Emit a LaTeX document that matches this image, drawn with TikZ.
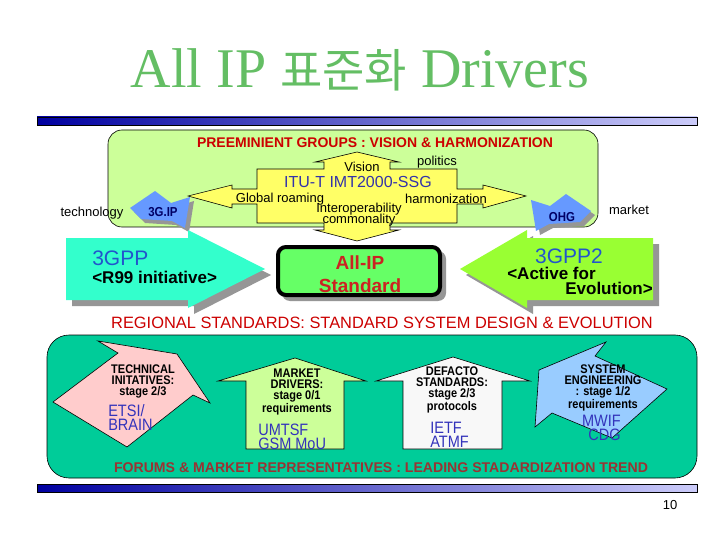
\documentclass[tikz,border=0pt]{standalone}
\usepackage{fontspec}
\setmainfont{Liberation Sans}
\newfontfamily\narrowfont[FakeStretch=0.88]{Liberation Sans}
\newfontfamily\titlefont{Liberation Serif}
\newfontfamily\krfont{Noto Sans CJK KR}

\definecolor{titlegreen}{RGB}{100,190,100}
\definecolor{barleft}{RGB}{0,0,160}
\definecolor{barright}{RGB}{204,204,250}
\definecolor{groupgreen}{RGB}{204,255,153}
\definecolor{ituyellow}{RGB}{255,255,102}
\definecolor{headred}{RGB}{204,0,0}
\definecolor{itublue}{RGB}{51,51,170}
\definecolor{ipblue}{RGB}{102,153,255}
\definecolor{ipnavy}{RGB}{0,0,102}
\definecolor{gppcyan}{RGB}{51,255,204}
\definecolor{gpptwo}{RGB}{153,255,51}
\definecolor{gppblue}{RGB}{34,85,204}
\definecolor{allipgreen}{RGB}{102,255,102}
\definecolor{allipred}{RGB}{204,34,34}
\definecolor{forumteal}{RGB}{0,204,153}
\definecolor{techpink}{RGB}{255,204,204}
\definecolor{marketgreen}{RGB}{204,255,153}
\definecolor{defactowhite}{RGB}{248,248,248}
\definecolor{syseng}{RGB}{153,204,255}
\definecolor{orgblue}{RGB}{51,51,187}
\definecolor{forumred}{RGB}{153,51,51}
\definecolor{shadowgray}{RGB}{150,150,150}

\begin{document}
\begin{tikzpicture}[x=1pt, y=-1pt, line width=0.6pt,
	every node/.style={inner sep=0pt, align=center},
	titletxt/.style={font=\titlefont\fontsize{56}{56}\selectfont, text=titlegreen},
	headtxt/.style={font=\bfseries\fontsize{14}{14}\selectfont, text=headred},
	labeltxt/.style={font=\fontsize{13}{13}\selectfont},
	ipmark/.style={font=\narrowfont\bfseries\fontsize{13}{13}\selectfont, text=ipnavy},
	gppname/.style={font=\fontsize{21}{21}\selectfont, text=gppblue},
	gppnote/.style={font=\bfseries\fontsize{17}{15}\selectfont},
	stagetxt/.style={font=\narrowfont\bfseries\fontsize{12.5}{11}\selectfont},
	orgtxt/.style={font=\narrowfont\fontsize{16.5}{14}\selectfont, text=orgblue},
	bar/.style={left color=barleft, right color=barright, draw=black}]
\useasboundingbox (0,0) rectangle (720,540);
\fill[white] (0,0) rectangle (720,540);

% title and bars
\node[titletxt] (title) at (360,70) {All IP {\krfont\fontsize{46}{46}\selectfont 표준화} Drivers};
\shadedraw[bar] (37,117) rectangle (697,125);
\shadedraw[bar] (37,484) rectangle (697,492);

% preeminient groups
\draw[fill=groupgreen, rounded corners=14pt] (108,130) rectangle (598,227);
\node[headtxt] (groups) at (375,143) {PREEMINIENT GROUPS : VISION \& HARMONIZATION};
\draw[fill=ituyellow] (188,196) -- (232,185) -- (232,189) -- (257,189) -- (257,169) -- (324,169)
	-- (324,162) -- (315,162) -- (357,152) -- (399,162) -- (390,162) -- (390,169) -- (457,169)
	-- (457,189) -- (483,189) -- (483,185) -- (526,196) -- (483,208) -- (483,204) -- (457,204)
	-- (457,223) -- (390,223) -- (390,230) -- (399,230) -- (357,241) -- (315,230) -- (324,230)
	-- (324,223) -- (257,223) -- (257,204) -- (232,204) -- (232,208) -- cycle;
\node[labeltxt] (vision) at (362,167) {Vision};
\node[labeltxt] (politics) at (437,162) {politics};
\node[font=\fontsize{16}{16}\selectfont, text=itublue] (itu) at (358,182) {ITU-T IMT2000-SSG};
\node[labeltxt] (roaming) at (280,199) {Global roaming};
\node[labeltxt] (harmon) at (446,199) {harmonization};
\node[labeltxt] (interop) at (359,209) {Interoperability};
\node[labeltxt] (common) at (359,220) {commonality};
\node[labeltxt] (techno) at (92,213) {technology};
\node[labeltxt] (market) at (629,210) {market};

% 3G.IP and OHG
\fill[shadowgray] (134,212) -- (159,195) -- (175,207) -- (194,201) -- (189,232) -- (176,225) -- (145,223) -- cycle;
\fill[ipblue] (130,208) -- (155,191) -- (171,203) -- (190,197) -- (185,228) -- (172,221) -- (141,219) -- cycle;
\node[ipmark] (gip) at (163,212) {3G.IP};
\fill[shadowgray] (595,215) -- (570,198) -- (554,210) -- (535,204) -- (540,235) -- (553,228) -- (584,226) -- cycle;
\fill[ipblue] (591,211) -- (566,194) -- (550,206) -- (531,200) -- (536,231) -- (549,224) -- (580,222) -- cycle;
\node[ipmark] (ohg) at (562,217) {OHG};

% 3GPP, 3GPP2 and All-IP
\fill[shadowgray] (72,244) -- (194,244) -- (194,236) -- (271,275) -- (194,314) -- (194,306) -- (72,306) -- cycle;
\fill[gppcyan] (66,238) -- (188,238) -- (188,230) -- (265,269) -- (188,308) -- (188,300) -- (66,300) -- cycle;
\node[gppname, anchor=west] (gpp) at (92,258) {3GPP};
\node[gppnote, anchor=west] (rnine) at (92,277) {<R99 initiative>};
\fill[shadowgray] (659,244) -- (533,244) -- (533,236) -- (466,275) -- (533,314) -- (533,306) -- (659,306) -- cycle;
\fill[gpptwo] (653,238) -- (527,238) -- (527,230) -- (460,269) -- (527,308) -- (527,300) -- (653,300) -- cycle;
\node[gppname] (gpptwo) at (569,256) {3GPP2};
\node[gppnote, anchor=west] (active) at (507,273) {<Active for};
\node[gppnote, anchor=east] (evol) at (653,288) {Evolution>};
\fill[shadowgray, rounded corners=8pt] (282,251) rectangle (446,301);
\draw[fill=allipgreen, line width=4pt, rounded corners=8pt] (278,247) rectangle (440,295);
\node[font=\bfseries\fontsize{19}{23}\selectfont, text=allipred] (allip) at (360,274) {All-IP\\Standard};

% regional standards and forums
\node[font=\fontsize{16.4}{16.4}\selectfont, text=headred] (regional) at (382,323) {REGIONAL STANDARDS: STANDARD SYSTEM DESIGN \& EVOLUTION};
\draw[fill=forumteal, rounded corners=22pt] (47,335) rectangle (697,478);
\draw[fill=techpink] (98,341) -- (177,354) -- (210,403) -- (193,395) -- (127,447) -- (53,402) -- (118,353) -- cycle;
\draw[fill=marketgreen] (246,449) -- (246,381) -- (218,381) -- (295,358) -- (366,381) -- (344,381) -- (344,449) -- cycle;
\draw[fill=defactowhite] (403,449) -- (403,381) -- (376,381) -- (453,357) -- (530,381) -- (502,381) -- (502,449) -- cycle;
\draw[fill=syseng] (606,342) -- (595,356) -- (667,389) -- (612,438) -- (552,413) -- (535,427) -- (539,370) -- cycle;
\node[stagetxt] (techinit) at (143,381) {TECHNICAL\\INITATIVES:\\stage 2/3};
\node[orgtxt, anchor=west, align=left] (etsi) at (108,418) {ETSI/\\BRAIN};
\node[stagetxt] (mktdrv) at (297,392) {MARKET\\DRIVERS:\\stage 0/1\\requirements};
\node[orgtxt, anchor=west, align=left] (umtsf) at (258,437) {UMTSF\\GSM MoU};
\node[stagetxt] (defacto) at (452,390) {DEFACTO\\STANDARDS:\\stage 2/3\\protocols};
\node[orgtxt, anchor=west, align=left] (ietf) at (430,435) {IETF\\ATMF};
\node[stagetxt] (syseng) at (603,388) {SYSTEM\\ENGINEERING\\: stage 1/2\\requirements};
\node[orgtxt, anchor=east, align=right] (mwif) at (621,428) {MWIF\\CDG};
\node[font=\bfseries\fontsize{14.1}{14.1}\selectfont, text=forumred] (forums) at (381,468) {FORUMS \& MARKET REPRESENTATIVES : LEADING STADARDIZATION TREND};

\node[font=\fontsize{13}{13}\selectfont] (page) at (670,505) {10};
\end{tikzpicture}
\end{document}
